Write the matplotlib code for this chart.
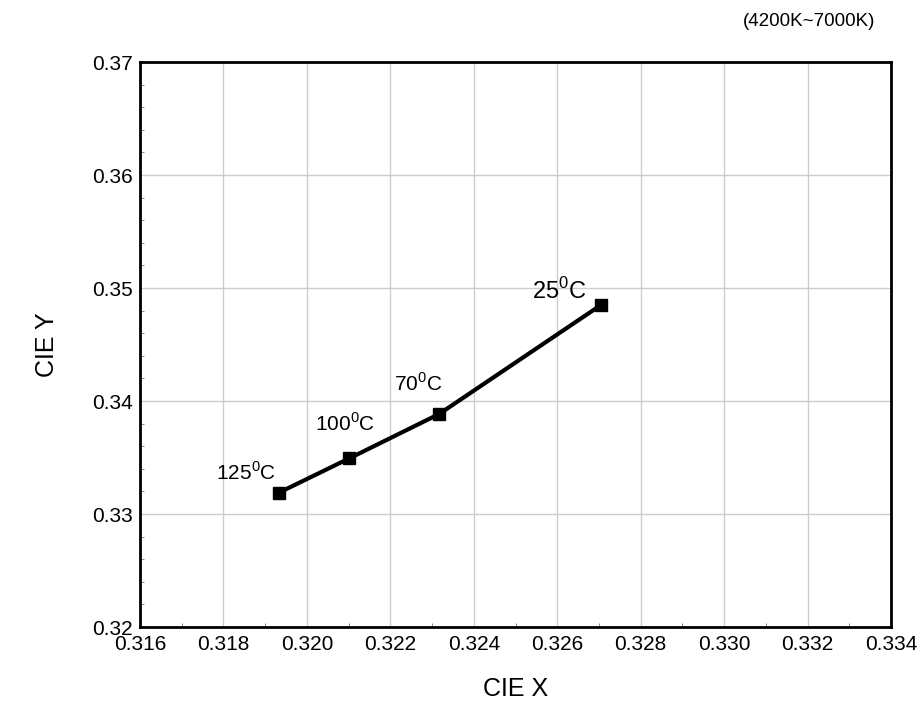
import numpy as np
import matplotlib.pyplot as plt
from matplotlib.ticker import MultipleLocator, FormatStrFormatter

plt.rcParams['font.family'] = ['Liberation Sans', 'DejaVu Sans']

# CIE chromaticity vs. temperature
temps = ['125', '100', '70', '25']
cie_x = [0.31933, 0.32102, 0.32317, 0.32705]
cie_y = [0.33189, 0.33493, 0.33885, 0.34850]
label_dx = [-0.00080, -0.00011, -0.00051, -0.00101]
label_dy = [0.00174, 0.00312, 0.00274, 0.00126]
label_size = [15, 15, 15, 17]

fig = plt.figure(figsize=(9.23, 7.07), dpi=100)
ax = fig.add_axes([140/923, 1 - 627/707, 751/923, 565/707])

ax.plot(cie_x, cie_y, color='black', lw=3, marker='s', ms=9, zorder=3)
for t, x, y, dx, dy, s in zip(temps, cie_x, cie_y, label_dx, label_dy, label_size):
    ax.text(x + dx, y + dy, t + r'$^{\mathregular{0}}$C', fontsize=s,
            ha='center', va='center')

ax.set_xlim(0.316, 0.334)
ax.set_ylim(0.32, 0.37)
ax.xaxis.set_major_locator(MultipleLocator(0.002))
ax.xaxis.set_minor_locator(MultipleLocator(0.001))
ax.yaxis.set_major_locator(MultipleLocator(0.01))
ax.yaxis.set_minor_locator(MultipleLocator(0.002))
ax.xaxis.set_major_formatter(FormatStrFormatter('%.3f'))
ax.yaxis.set_major_formatter(FormatStrFormatter('%.2f'))
ax.tick_params(which='both', direction='in', labelsize=15)
ax.tick_params(axis='x', which='major', length=0, pad=6)
ax.tick_params(axis='y', which='major', length=0, pad=5)
ax.tick_params(which='minor', length=3, color='#777777')
ax.grid(True, which='major', color='#cccccc', lw=1)
for sp in ax.spines.values():
    sp.set_linewidth(2)

ax.set_xlabel('CIE X', fontsize=18, labelpad=16)
ax.set_ylabel('CIE Y', fontsize=18, labelpad=24)
fig.text(875/923, 1 - 22/707, '(4200K~7000K)', fontsize=13.5, ha='right', va='center')

fig.savefig('out.png', dpi=100)
